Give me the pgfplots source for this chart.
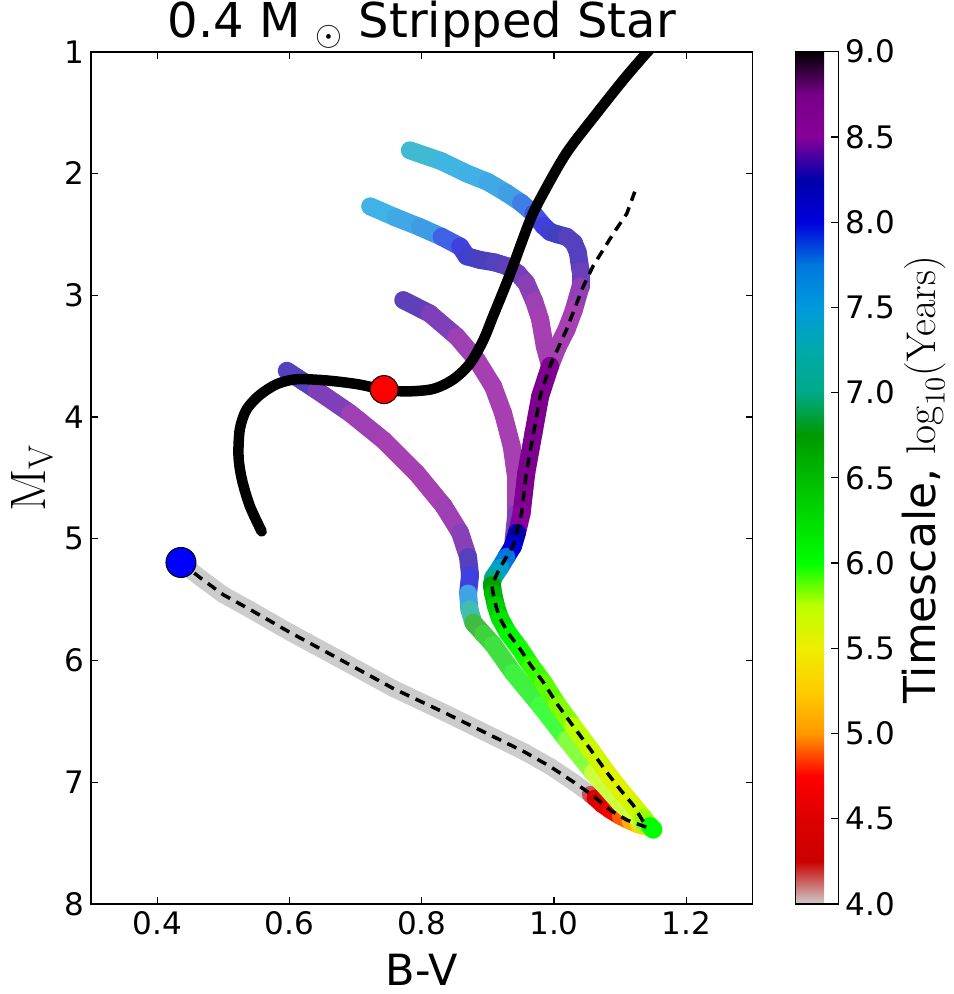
\documentclass[border=0pt]{standalone}
\usepackage{pgfplots}
\pgfplotsset{compat=1.18}
\usepackage[no-math]{fontspec}
\setmainfont{DejaVu Sans}

% reversed nipy_spectral, 4.0 (grey) -> 9.0 (black)
\pgfplotsset{
  colormap={nipyr}{rgb=(0.8,0.8,0.8) rgb=(0.8,0,0) rgb=(0.8667,0,0) rgb=(1,0,0)
    rgb=(1,0.6,0) rgb=(1,0.8,0) rgb=(0.9333,0.9333,0) rgb=(0.7333,1,0) rgb=(0,1,0)
    rgb=(0,0.8667,0) rgb=(0,0.7333,0) rgb=(0,0.6,0) rgb=(0,0.6667,0.5333)
    rgb=(0,0.6667,0.6667) rgb=(0,0.6,0.8667) rgb=(0,0.4667,0.8667) rgb=(0,0,0.8667)
    rgb=(0,0,0.6667) rgb=(0.5333,0,0.6) rgb=(0.4667,0,0.5333) rgb=(0,0,0)},
  % same map seen through alpha 0.75 on white (single, non-overlapping tracks)
  colormap={nipylight}{rgb=(0.85,0.85,0.85) rgb=(0.85,0.25,0.25) rgb=(0.9,0.25,0.25)
    rgb=(1,0.25,0.25) rgb=(1,0.7,0.25) rgb=(1,0.85,0.25) rgb=(0.95,0.95,0.25)
    rgb=(0.8,1,0.25) rgb=(0.25,1,0.25) rgb=(0.25,0.9,0.25) rgb=(0.25,0.8,0.25)
    rgb=(0.25,0.7,0.25) rgb=(0.25,0.75,0.65) rgb=(0.25,0.75,0.75) rgb=(0.25,0.7,0.9)
    rgb=(0.25,0.6,0.9) rgb=(0.25,0.25,0.9) rgb=(0.25,0.25,0.75) rgb=(0.65,0.25,0.7)
    rgb=(0.6,0.25,0.65) rgb=(0.25,0.25,0.25)},
}

\begin{document}
\begin{tikzpicture}
\begin{axis}[
  scale only axis, width=330.75pt, height=426.15pt,
  at={(0,0)}, anchor=south west,
  xmin=0.3, xmax=1.3, ymin=1, ymax=8, y dir=reverse,
  xtick={0.4,0.6,0.8,1.0,1.2}, ytick={1,2,3,4,5,6,7,8},
  tick align=inside, major tick length=3.5pt,
  axis line style={line width=0.8pt},
  tick style={line width=0.6pt, black},
  tick label style={font=\fontsize{15.5}{18}\selectfont},
  xticklabel style={/pgf/number format/.cd, fixed, fixed zerofill, precision=1, assume math mode=true},
  yticklabel style={/pgf/number format/assume math mode=true},
  title={0.4 M $_\odot$ Stripped Star},
  title style={font=\fontsize{24}{28}\selectfont, at={(0.5,1)}, anchor=base, inner sep=0pt, yshift=1pt},
  xlabel={B-V},
  ylabel={$\mathrm{M_V}$},
  label style={font=\fontsize{21.5}{26}\selectfont},
  xlabel style={at={(axis description cs:0.5,0)}, anchor=base, yshift=-40.5pt},
  ylabel style={at={(axis description cs:-0.0695,0.5)}, anchor=base, font=\fontsize{23}{27}\selectfont},
  colormap name=nipyr,
  point meta min=4, point meta max=9,
  colorbar,
  colorbar style={
    at={(parent axis.north east)}, anchor=north west, xshift=13pt,
    width=21.5pt,
    ytick={4,4.5,5,5.5,6,6.5,7,7.5,8,8.5,9},
    ytick pos=right, yticklabel pos=right,
    tick align=inside, major tick length=4pt,
    tick style={line width=0.6pt, black},
    axis line style={line width=0.8pt},
    yticklabel style={font=\fontsize{15.5}{18}\selectfont,
      /pgf/number format/.cd, fixed, fixed zerofill, precision=1, assume math mode=true},
  },
]

% stripped track (grey, then red near the turn-off)
\addplot[mesh, point meta=explicit, line width=8.5pt, line cap=round] table[meta=c] {
x y c
0.436 5.195 4.0
0.465 5.32 4.0
0.500 5.46 4.0
0.540 5.58 4.0
0.601 5.77 4.0
0.676 5.99 4.0
0.757 6.23 4.0
0.835 6.43 4.0
0.910 6.63 4.0
0.955 6.75 4.0
0.994 6.87 4.0
1.030 7.00 4.0
1.055 7.10 4.0
1.062 7.13 4.3
1.072 7.18 4.5
1.085 7.23 4.6
1.100 7.28 4.8
1.115 7.32 5.0
1.128 7.35 5.2
1.140 7.37 5.5
};

% track 4
\addplot[mesh, colormap name=nipylight, point meta=explicit, line width=9pt, line cap=round] table[meta=c] {
x y c
0.596 3.62 8.25
0.641 3.78 8.35
0.692 3.97 8.45
0.742 4.19 8.5
0.792 4.46 8.5
0.833 4.73 8.5
0.858 4.95 8.45
0.870 5.15 8.4
0.873 5.30 8.2
0.870 5.45 7.9
0.872 5.58 7.4
0.878 5.69 6.8
0.893 5.78 6.5
0.908 5.87 6.4
0.938 6.10 6.2
0.979 6.37 6.05
1.019 6.65 5.95
1.059 6.92 5.8
1.100 7.17 5.7
1.135 7.33 5.8
1.150 7.38 6.0
};

% track 3 (until it joins the common branch)
\addplot[mesh, colormap name=nipylight, point meta=explicit, line width=9pt, line cap=round] table[meta=c] {
x y c
0.772 3.04 8.3
0.812 3.15 8.35
0.853 3.34 8.45
0.883 3.53 8.5
0.908 3.75 8.5
0.923 3.97 8.5
0.936 4.24 8.5
0.943 4.51 8.5
0.943 4.79 8.5
0.938 5.06 8.3
};

% track 2 (until it joins the common branch)
\addplot[mesh, colormap name=nipylight, point meta=explicit, line width=9pt, line cap=round] table[meta=c] {
x y c
0.722 2.27 7.45
0.760 2.36 7.55
0.797 2.44 7.65
0.830 2.52 7.8
0.858 2.60 8.0
0.868 2.68 8.1
0.888 2.71 8.25
0.910 2.73 8.3
0.928 2.76 8.3
0.945 2.82 8.35
0.958 2.90 8.4
0.970 3.05 8.45
0.979 3.20 8.5
0.986 3.42 8.5
0.994 3.58 8.6
};

% track 1 (upper part)
\addplot[mesh, colormap name=nipylight, point meta=explicit, line width=9pt, line cap=round] table[meta=c] {
x y c
0.782 1.81 7.3
0.830 1.90 7.45
0.868 2.00 7.5
0.900 2.07 7.55
0.928 2.16 7.65
0.950 2.24 7.75
0.969 2.33 7.9
0.984 2.43 8.0
0.994 2.48 8.1
1.005 2.50 8.2
1.019 2.52 8.3
1.030 2.57 8.3
1.036 2.65 8.3
1.040 2.80 8.3
1.040 2.93 8.4
1.030 3.12 8.5
1.019 3.28 8.5
1.005 3.43 8.55
0.994 3.58 8.6
};

% common branch of tracks 1-3
\addplot[mesh, point meta=explicit, line width=9pt, line cap=round] table[meta=c] {
x y c
0.994 3.58 8.6
0.979 3.83 8.65
0.969 4.13 8.65
0.958 4.46 8.65
0.951 4.79 8.6
0.944 4.95 8.4
0.938 5.06 8.1
0.928 5.15 7.9
0.918 5.24 7.6
0.908 5.32 7.2
0.906 5.38 6.8
0.908 5.45 6.6
0.912 5.55 6.4
0.918 5.65 6.3
0.930 5.77 6.1
0.948 5.90 6.0
0.965 6.04 5.95
0.984 6.18 5.9
1.005 6.36 5.85
1.029 6.54 5.8
1.055 6.73 5.7
1.080 6.92 5.6
1.100 7.06 5.55
1.120 7.19 5.6
1.135 7.29 5.7
1.145 7.36 5.9
1.150 7.39 6.1
};

% dashed model track
\addplot[black, line width=1.75pt, dash pattern=on 5pt off 3.5pt] coordinates {
(0.436,5.195) (0.465,5.32) (0.500,5.46) (0.540,5.58) (0.601,5.77) (0.676,5.99)
(0.757,6.23) (0.835,6.43) (0.910,6.63) (0.955,6.75) (0.994,6.87) (1.030,7.00)
(1.059,7.11) (1.085,7.23) (1.110,7.31) (1.140,7.37)
(1.120,7.19) (1.100,7.06) (1.080,6.92) (1.055,6.73) (1.029,6.54) (1.005,6.36)
(0.984,6.18) (0.965,6.04) (0.948,5.90) (0.930,5.77) (0.918,5.65) (0.912,5.55)
(0.908,5.45) (0.906,5.38) (0.918,5.24) (0.928,5.15) (0.938,5.06) (0.951,4.79)
(0.958,4.46) (0.969,4.13) (0.979,3.83) (0.994,3.58) (1.019,3.28) (1.044,2.93)
(1.059,2.76) (1.090,2.49) (1.110,2.33) (1.122,2.15)
};

% companion track (black)
\addplot[black, line width=5.25pt, line cap=round, line join=round, smooth] coordinates {
(0.558,4.94) (0.540,4.73) (0.528,4.51) (0.523,4.32) (0.525,4.10) (0.535,3.94)
(0.555,3.82) (0.581,3.73) (0.611,3.69) (0.656,3.70) (0.702,3.73) (0.743,3.775)
(0.777,3.79) (0.817,3.77) (0.848,3.69) (0.873,3.56) (0.893,3.37) (0.908,3.17)
(0.926,2.93) (0.938,2.76) (0.964,2.38) (0.984,2.16) (1.019,1.83) (1.064,1.51)
(1.105,1.23) (1.135,1.04) (1.150,0.95)
};

\addplot[only marks, mark=*, mark size=7pt, mark options={fill=red, draw=black, line width=0.5pt}]
  coordinates {(0.743,3.775)};
\addplot[only marks, mark=*, mark size=7.5pt, mark options={fill=blue, draw=black, line width=0.5pt}]
  coordinates {(0.436,5.195)};
\end{axis}
\node[rotate=90, anchor=base, font=\fontsize{22}{26}\selectfont] at (422pt,212pt)
  {Timescale, $\log_{10}(\mathrm{Years})$};
\pgfresetboundingbox
\path (-45.5pt,-45pt) rectangle (431pt,452pt);
\end{tikzpicture}
\end{document}
